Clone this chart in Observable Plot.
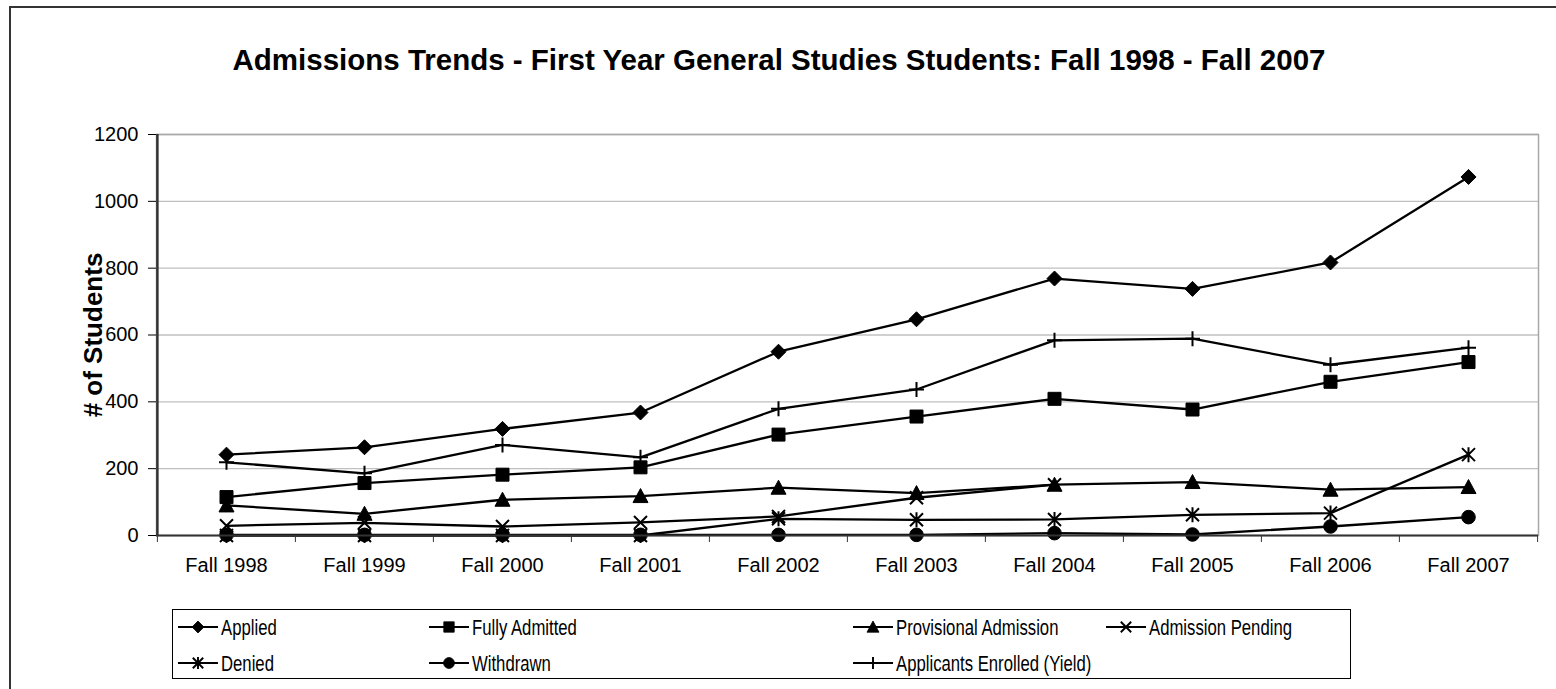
<!DOCTYPE html>
<html><head><meta charset="utf-8">
<script src="https://cdn.jsdelivr.net/npm/d3@7"></script>
<script src="https://cdn.jsdelivr.net/npm/@observablehq/plot@0.6"></script>
<style>
body{margin:0;background:#fff;width:1556px;height:689px;overflow:hidden;position:relative;font-family:"Liberation Sans",Arial,sans-serif;}
#frame{position:absolute;left:9px;top:6px;width:1600px;height:700px;border-left:2px solid #333;border-top:2px solid #333;}
#title{position:absolute;left:10px;width:1538px;top:44px;text-align:center;font-weight:bold;font-size:29.5px;line-height:32px;white-space:nowrap;}
#chart{position:absolute;left:0;top:110px;}
#legend{position:absolute;left:172px;top:609px;width:1177px;height:68px;border:1px solid #000;background:#fff;}
</style></head><body>
<div id="frame"></div>
<div id="title">Admissions Trends - First Year General Studies Students: Fall 1998 - Fall 2007</div>
<div id="chart"></div>
<div id="legend"></div>
<script>
const years = ["Fall 1998","Fall 1999","Fall 2000","Fall 2001","Fall 2002","Fall 2003","Fall 2004","Fall 2005","Fall 2006","Fall 2007"];
const yTicks = [0,200,400,600,800,1000,1200];
const applied       = [242,264,319,368,550,647,769,738,817,1073];
const fullyAdmitted = [115,157,182,204,302,356,409,377,460,519];
const provisional   = [90,65,107,118,143,127,152,160,137,145];
const pending       = [29,38,27,39,57,113,152,null,null,null];
const denied        = [0,0,0,0,50,47,48,62,67,242];
const withdrawn     = [2,2,2,2,2,2,7,3,27,55];
const enrolled      = [219,186,271,234,379,437,584,589,511,562];

const seriesNames = ["Applied","Fully Admitted","Provisional Admission","Admission Pending","Denied","Withdrawn","Applicants Enrolled (Yield)"];
const seriesValues = [applied, fullyAdmitted, provisional, pending, denied, withdrawn, enrolled];

// marker shapes (Excel style)
const sym = {
  diamond:{draw(c){c.moveTo(0,-7.5);c.lineTo(7.5,0);c.lineTo(0,7.5);c.lineTo(-7.5,0);c.closePath();}},
  square:{draw(c){c.rect(-6.5,-6.5,13,13);}},
  triangle:{draw(c){c.moveTo(0,-7.5);c.lineTo(7.5,6.5);c.lineTo(-7.5,6.5);c.closePath();}},
  times:{draw(c){c.moveTo(-6.5,-6.5);c.lineTo(6.5,6.5);c.moveTo(6.5,-6.5);c.lineTo(-6.5,6.5);}},
  asterisk:{draw(c){c.moveTo(-6.5,-6.5);c.lineTo(6.5,6.5);c.moveTo(6.5,-6.5);c.lineTo(-6.5,6.5);c.moveTo(0,-7.5);c.lineTo(0,7.5);}},
  circle:{draw(c){c.moveTo(6.8,0);c.arc(0,0,6.8,0,2*Math.PI);}},
  plus:{draw(c){c.moveTo(-7.5,0);c.lineTo(7.5,0);c.moveTo(0,-7.5);c.lineTo(0,7.5);}}
};
const styleOf = {
  "Applied":{s:"diamond",filled:true},
  "Fully Admitted":{s:"square",filled:true},
  "Provisional Admission":{s:"triangle",filled:true},
  "Admission Pending":{s:"times",filled:false},
  "Denied":{s:"asterisk",filled:false},
  "Withdrawn":{s:"circle",filled:true},
  "Applicants Enrolled (Yield)":{s:"plus",filled:false}
};

const W = 1556, H = 490, mL = 156, mR = 18, mT = 24, mB = 65;
const step = (W - mL - mR) / years.length;
const font = '"Liberation Sans",Arial,sans-serif';

const marks = [
  Plot.ruleY(yTicks.filter(d => d > 0), {stroke:"#c0c0c0", strokeWidth:1.3}),
  Plot.frame({stroke:"#a8a8a8", strokeWidth:1.5}),
];
seriesNames.forEach((name, k) => {
  const data = years.map((yr, i) => ({year: yr, value: seriesValues[k][i]}));
  const st = styleOf[name];
  marks.push(Plot.line(data, {x:"year", y:"value", stroke:"#000", strokeWidth:2.3}));
  marks.push(Plot.dot(data.filter(d => d.value != null), {
    x:"year", y:"value", symbol: sym[st.s],
    fill: st.filled ? "#000" : "none", stroke:"#000", strokeWidth: st.filled ? 1 : 2
  }));
});
marks.push(
  Plot.ruleY([0], {stroke:"#333", strokeWidth:2}),
  Plot.ruleX([years[0]], {dx:-step/2, stroke:"#333", strokeWidth:2.5}),
  Plot.axisY({ticks:yTicks, tickSize:8, tickPadding:10, fontSize:20, fontFamily:font, tickFormat:d3.format("d"), label:null, stroke:"#000"}),
  Plot.axisX({ticks:years, tickSize:7, tickFormat:()=>"", dx:-step/2, stroke:"#333", label:null}),
  Plot.axisX({ticks:[years[years.length-1]], tickSize:7, tickFormat:()=>"", dx:step/2, stroke:"#333", label:null}),
  Plot.axisX({ticks:years, tickSize:0, tickPadding:22, fontSize:20, fontFamily:font, label:null}),
  Plot.text(["# of Students"], {frameAnchor:"left", textAnchor:"middle", rotate:-90, dx:-63, fontSize:26, fontWeight:"bold", fontFamily:font, fill:"#000"})
);

const chart = Plot.plot({
  width:W, height:H, marginLeft:mL, marginRight:mR, marginTop:mT, marginBottom:mB,
  style:{background:"transparent", color:"#000", fontFamily:font},
  x:{type:"point", domain:years, padding:0.5, label:null, axis:null},
  y:{domain:[0,1200], label:null, axis:null},
  marks
});
document.getElementById("chart").appendChild(chart);

// legend
const cols = [5, 256, 680, 933];
const rows = [17, 53];
const lg = d3.select("#legend").append("svg").attr("width",1177).attr("height",68)
  .style("font-family", font).style("font-size","22px");
seriesNames.forEach((name, k) => {
  const x0 = cols[k % 4], y0 = rows[Math.floor(k / 4)];
  const st = styleOf[name];
  const g = lg.append("g").attr("transform", `translate(${x0},${y0})`);
  g.append("line").attr("x1",0).attr("x2",40).attr("y1",0).attr("y2",0).attr("stroke","#000").attr("stroke-width",2);
  g.append("path").attr("transform","translate(20,0) scale(0.8)").attr("d", d3.symbol(sym[st.s])())
    .attr("fill", st.filled ? "#000" : "none").attr("stroke","#000").attr("stroke-width", st.filled ? 1 : 2.4);
  g.append("text").attr("transform","translate(43,0) scale(0.76,1)").attr("dy","0.35em").text(name);
});
</script>
</body></html>
